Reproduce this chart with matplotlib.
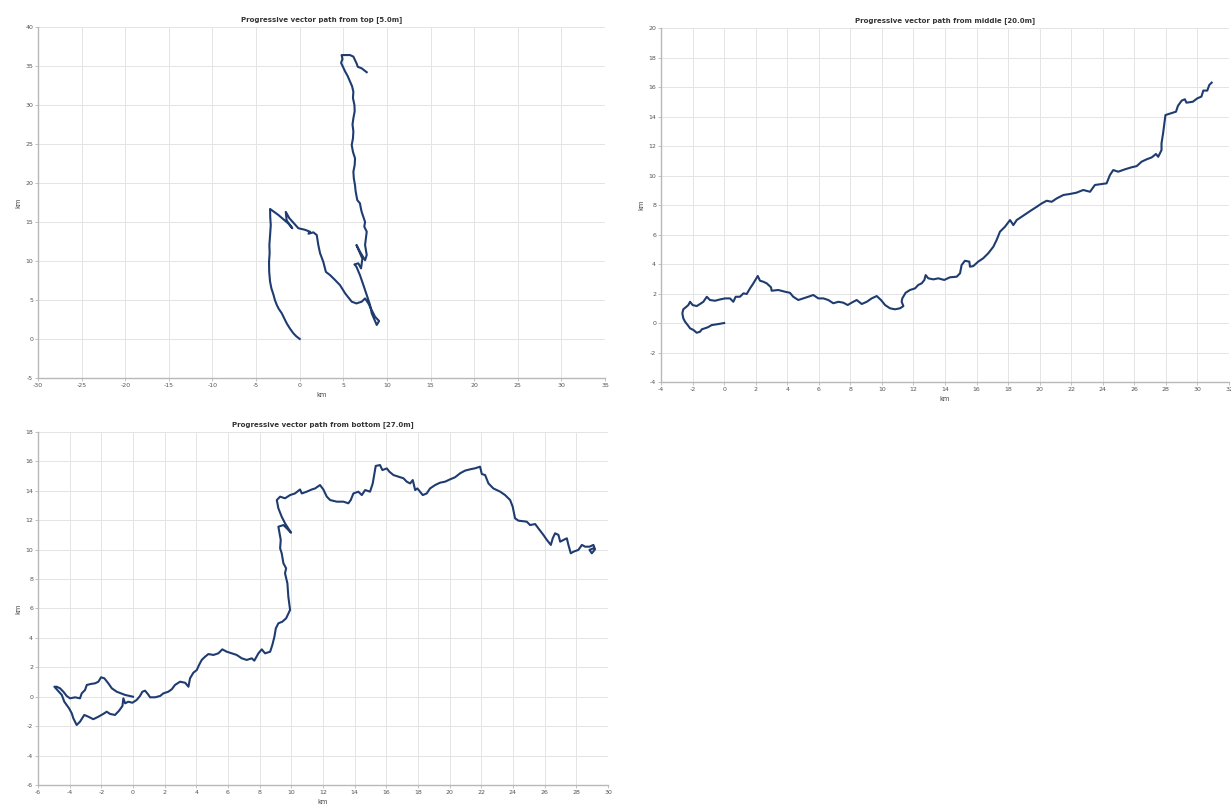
import matplotlib
matplotlib.use('Agg')
import matplotlib.pyplot as plt
import numpy as np

# progressive vector paths (km east, km north)
top_x = [0.0, -0.4, -0.73, -1.1, -1.49, -1.8, -2.06, -2.4, -2.63, -2.85, -3.0,
         -3.25, -3.4, -3.5, -3.52, -3.45, -3.48, -3.4, -3.32, -3.38, -3.4,
         -2.45, -1.3, -0.85, -1.5, -1.6, -1.2, -0.16, 0.6, 1.18, 1.0, 1.56, 1.95,
         2.13, 2.33, 2.7, 3.0, 3.47, 4.05, 4.62, 5.2, 5.96, 6.5, 7.1, 7.49, 7.87,
         8.25, 8.63, 9.1, 8.83, 8.25, 8.06, 7.68, 7.3, 6.9, 6.5, 6.27, 6.72, 7.03,
         7.18, 6.5, 6.9, 7.49, 7.68, 7.49, 7.68, 7.4, 7.49, 7.1, 7.0, 6.9, 6.6, 6.53,
         6.4, 6.34, 6.2, 6.15, 6.3, 6.34, 6.1, 5.96, 6.1, 6.15, 6.05, 6.15, 6.3,
         6.27, 6.1, 6.15, 6.0, 5.77, 5.5, 5.2, 4.95, 4.74, 4.9, 4.8, 5.77,
         6.15, 6.53, 6.65, 7.1, 7.68]
top_y = [0.0, 0.35, 0.73, 1.3, 2.0, 2.7, 3.3, 3.85, 4.36, 5.0, 5.64,
         6.5, 7.35, 8.6, 9.9, 11.0, 12.05, 13.3, 14.6, 15.6, 16.67,
         15.9, 14.8, 14.2, 15.2, 16.3, 15.5, 14.2, 14.0, 13.75, 13.5, 13.67, 13.33,
         12.05, 11.0, 9.9, 8.6, 8.2, 7.56, 6.9, 5.86, 4.78, 4.56, 4.78, 5.2, 4.56,
         3.7, 2.86, 2.3, 1.8, 3.3, 4.36, 5.64, 6.9, 8.2, 9.26, 9.56, 9.7, 9.05,
         10.3, 12.05, 11.2, 10.1, 10.77, 12.05, 13.76, 14.4, 15.0, 16.3, 16.8, 17.4, 17.8, 18.2,
         19.0, 19.7, 20.6, 21.45, 22.3, 23.15, 24.0, 24.87, 25.7, 26.6, 27.5, 28.3, 29.2,
         30.0, 30.9, 31.7, 32.4, 33.0, 33.7, 34.3, 34.9, 35.4, 35.9, 36.4, 36.4,
         36.2, 35.3, 34.9, 34.7, 34.2]

mid_x = [0.0, -0.37, -0.79, -1.04, -1.42, -1.53, -1.74, -1.95, -2.16, -2.31, -2.48,
         -2.59, -2.65, -2.59, -2.44, -2.27, -2.16, -2.0, -1.74, -1.53, -1.32, -1.1,
         -0.9, -0.58, -0.26, 0.06, 0.37, 0.58, 0.73, 1.0, 1.22, 1.43, 1.64, 1.85,
         2.0, 2.13, 2.27, 2.48, 2.7, 2.97, 3.01, 3.43, 3.86, 4.17, 4.38, 4.7, 5.02,
         5.33, 5.65, 5.97, 6.29, 6.6, 6.92, 7.24, 7.55, 7.83, 8.08, 8.4, 8.72, 9.04,
         9.35, 9.67, 9.94, 10.2, 10.51, 10.83, 11.15, 11.36, 11.25, 11.29, 11.5,
         11.78, 12.1, 12.3, 12.52, 12.69, 12.77, 12.94, 13.26, 13.57, 13.95, 14.31,
         14.74, 14.95, 15.05, 15.26, 15.54, 15.58, 15.79, 16.1, 16.42, 16.74, 17.06,
         17.27, 17.48, 17.8, 18.12, 18.33, 18.54, 18.86, 19.18, 19.49, 19.81, 20.13,
         20.44, 20.76, 21.08, 21.5, 21.92, 22.34, 22.76, 23.19, 23.5, 23.93, 24.24,
         24.45, 24.66, 24.98, 25.4, 25.83, 26.15, 26.46, 26.78, 27.1, 27.37, 27.51,
         27.72, 27.72, 27.82, 27.9, 27.97, 28.27, 28.64, 28.76, 29.0, 29.2, 29.3,
         29.7, 30.0, 30.25, 30.37, 30.62, 30.75, 30.9]
mid_y = [0.0, -0.07, -0.14, -0.29, -0.43, -0.59, -0.66, -0.47, -0.36, -0.14, 0.09,
         0.32, 0.66, 0.93, 1.06, 1.22, 1.44, 1.22, 1.15, 1.29, 1.44, 1.78,
         1.56, 1.51, 1.6, 1.67, 1.67, 1.44, 1.78, 1.78, 2.01, 1.97, 2.35, 2.69,
         2.96, 3.19, 2.87, 2.8, 2.69, 2.42, 2.19, 2.24, 2.12, 2.05, 1.78, 1.56, 1.67,
         1.78, 1.9, 1.67, 1.67, 1.56, 1.34, 1.44, 1.38, 1.22, 1.38, 1.56, 1.29, 1.44,
         1.67, 1.83, 1.56, 1.22, 1.0, 0.93, 1.0, 1.15, 1.44, 1.67, 2.05,
         2.24, 2.35, 2.58, 2.69, 2.92, 3.25, 3.03, 2.96, 3.03, 2.92, 3.1,
         3.14, 3.37, 3.93, 4.22, 4.16, 3.82, 3.86, 4.16, 4.39, 4.73, 5.17,
         5.63, 6.19, 6.53, 6.98, 6.64, 6.98, 7.21, 7.44, 7.66, 7.88, 8.11,
         8.29, 8.22, 8.45, 8.68, 8.75, 8.84, 9.02, 8.9, 9.36, 9.42, 9.47,
         10.03, 10.37, 10.26, 10.42, 10.56, 10.64, 10.94, 11.1, 11.23, 11.46, 11.27,
         11.72, 12.18, 12.86, 13.54, 14.1, 14.2, 14.33, 14.72, 15.08, 15.17, 14.94,
         15.0, 15.24, 15.35, 15.76, 15.76, 16.14, 16.3]

bot_x = [0.0, -0.5, -1.03, -1.34, -1.56, -1.81, -2.02, -2.19, -2.4, -2.65, -2.92,
         -3.03, -3.24, -3.35, -3.66, -3.98, -4.19, -4.4, -4.61, -4.82, -4.97, -4.5,
         -4.34, -4.19, -4.04, -3.87, -3.77, -3.56, -3.35, -3.08, -2.82, -2.51, -2.19,
         -1.88, -1.66, -1.45, -1.14, -0.88, -0.67, -0.61, -0.5, -0.3, -0.04, 0.23,
         0.44, 0.59, 0.76, 0.93, 1.08, 1.39, 1.71, 1.92, 2.23, 2.45, 2.65, 2.97,
         3.29, 3.5, 3.6, 3.81, 4.03, 4.17, 4.34, 4.55, 4.76, 5.08, 5.39, 5.64, 5.92,
         6.24, 6.55, 6.87, 7.18, 7.5, 7.66, 7.92, 8.13, 8.34, 8.66, 8.8, 8.93, 9.02,
         9.18, 9.43, 9.67, 9.92, 9.81, 9.75, 9.6, 9.67, 9.5, 9.39, 9.29, 9.33, 9.24,
         9.18, 9.5, 9.71, 9.98, 9.6, 9.39, 9.18, 9.08, 9.29, 9.6, 9.92, 10.23,
         10.55, 10.66, 10.97, 11.29, 11.5, 11.81, 12.02, 12.24, 12.45, 12.87, 13.29,
         13.6, 13.75, 13.92, 14.23, 14.45, 14.66, 14.97, 15.14, 15.25, 15.33, 15.6,
         15.75, 16.03, 16.19, 16.45, 16.76, 17.08, 17.29, 17.5, 17.67, 17.82, 17.96,
         18.13, 18.3, 18.55, 18.76, 19.08, 19.39, 19.71, 20.03, 20.34, 20.66, 20.97,
         21.29, 21.61, 21.92, 22.03, 22.24, 22.45, 22.76, 23.19, 23.5, 23.82, 23.98,
         24.13, 24.34, 24.87, 25.08, 25.4, 25.6, 25.92, 26.14, 26.39, 26.51, 26.66,
         26.87, 26.98, 27.19, 27.4, 27.5, 27.65, 27.82, 28.13, 28.35, 28.56, 28.83,
         29.08, 29.18, 28.98, 28.83, 29.08]
bot_y = [0.0, 0.12, 0.34, 0.57, 0.91, 1.25, 1.32, 1.02, 0.91, 0.87, 0.8,
         0.46, 0.23, -0.11, -0.04, -0.11, 0.05, 0.34, 0.57, 0.68, 0.68, 0.12,
         -0.34, -0.56, -0.79, -1.13, -1.47, -1.92, -1.7, -1.24, -1.36, -1.53, -1.36,
         -1.17, -1.02, -1.17, -1.24, -0.95, -0.63, -0.11, -0.45, -0.34, -0.41, -0.22,
         0.05, 0.34, 0.41, 0.19, -0.04, -0.04, 0.05, 0.23, 0.34, 0.51, 0.8, 1.02,
         0.95, 0.68, 1.25, 1.63, 1.82, 2.16, 2.5, 2.72, 2.9, 2.84, 2.95, 3.22, 3.06,
         2.95, 2.84, 2.61, 2.5, 2.61, 2.45, 2.95, 3.22, 2.95, 3.06, 3.52, 4.08, 4.65,
         4.99, 5.1, 5.33, 5.9, 6.8, 7.71, 8.39, 8.73, 9.07, 9.75, 10.09, 10.66, 11.22,
         11.56, 11.67, 11.45, 11.15, 11.79, 12.24, 12.81, 13.37, 13.6, 13.49, 13.71, 13.82,
         14.09, 13.82, 13.94, 14.09, 14.16, 14.39, 14.09, 13.6, 13.37, 13.26, 13.26,
         13.15, 13.37, 13.82, 13.94, 13.71, 14.05, 13.94, 14.5, 15.18, 15.69, 15.75,
         15.41, 15.52, 15.3, 15.07, 14.96, 14.85, 14.62, 14.5, 14.73, 14.05, 14.16,
         13.94, 13.71, 13.82, 14.16, 14.39, 14.55, 14.62, 14.78, 14.92, 15.19, 15.37,
         15.46, 15.53, 15.64, 15.14, 15.07, 14.5, 14.16, 13.94, 13.71, 13.37, 12.92,
         12.13, 11.97, 11.9, 11.67, 11.74, 11.45, 11.0, 10.66, 10.32, 10.77, 11.11,
         11.0, 10.54, 10.66, 10.77, 10.32, 9.75, 9.86, 9.98, 10.32, 10.2, 10.2,
         10.32, 10.02, 9.75, 9.98, 10.09]

titles = ['Progressive vector path from top [5.0m]',
          'Progressive vector path from middle [20.0m]',
          'Progressive vector path from bottom [27.0m]']

line_color = '#1f3c70'
plt.rcParams['axes.unicode_minus'] = False

fig = plt.figure(figsize=(12.31, 8.08), dpi=100)
ax_top = fig.add_axes([0.0309, 0.5322, 0.4606, 0.4344])
ax_mid = fig.add_axes([0.537, 0.5272, 0.4614, 0.4381])
ax_bot = fig.add_axes([0.0309, 0.0285, 0.463, 0.4369])

def style(ax, title, xlim, ylim, xstep, ystep):
    ax.set_xlim(*xlim)
    ax.set_ylim(*ylim)
    ax.set_xticks(np.arange(xlim[0], xlim[1] + 0.1, xstep))
    ax.set_yticks(np.arange(ylim[0], ylim[1] + 0.1, ystep))
    ax.grid(True, color='#e4e4e4', linewidth=0.7)
    ax.set_axisbelow(True)
    for side in ['top', 'right']:
        ax.spines[side].set_visible(False)
    for side in ['left', 'bottom']:
        ax.spines[side].set_color('#b8b8b8')
        ax.spines[side].set_linewidth(1.0)
    ax.tick_params(labelsize=4.5, colors='#b8b8b8', labelcolor='#555555',
                   length=2, width=0.6, pad=1.5)
    ax.set_title(title, fontsize=5, fontweight='bold', color='#333333', pad=4)
    ax.set_xlabel('km', fontsize=4.8, color='#444444', labelpad=3)
    ax.set_ylabel('km', fontsize=4.8, color='#444444', labelpad=3)

ax_top.plot(top_x, top_y, color=line_color, linewidth=1.5)
style(ax_top, titles[0], (-30, 35), (-5, 40), 5, 5)

ax_mid.plot(mid_x, mid_y, color=line_color, linewidth=1.5)
style(ax_mid, titles[1], (-4, 32), (-4, 20), 2, 2)

ax_bot.plot(bot_x, bot_y, color=line_color, linewidth=1.5)
style(ax_bot, titles[2], (-6, 30), (-6, 18), 2, 2)

plt.savefig('out.png', dpi=100)
